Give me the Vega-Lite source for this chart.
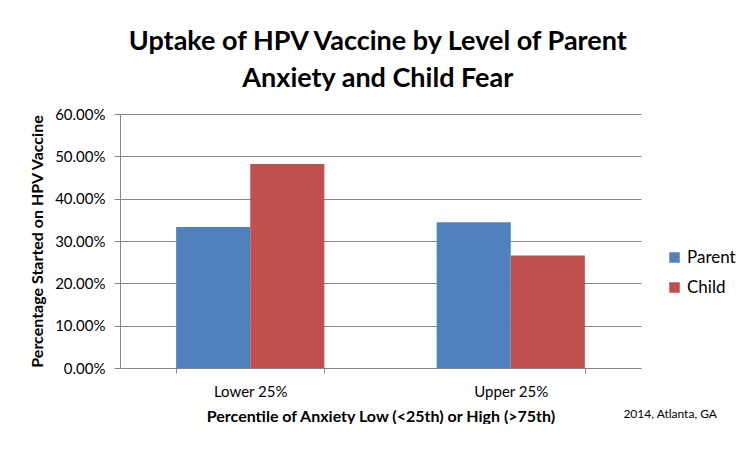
{
  "$schema": "https://vega.github.io/schema/vega-lite/v6.json",
  "autosize": {"type": "pad"},
  "padding": {"left": 29, "top": 28, "right": 0, "bottom": 0},
  "background": "white",
  "title": {
    "text": ["Uptake of HPV Vaccine by Level of Parent", "Anxiety and Child Fear"],
    "font": "Lato",
    "fontSize": 27,
    "fontWeight": "bold",
    "color": "#000000",
    "anchor": "middle",
    "lineHeight": 37,
    "offset": 14,
    "dx": -5
  },
  "data": {
    "values": [
      {"group": "Lower 25%", "who": "Parent", "pct": 0.333},
      {"group": "Lower 25%", "who": "Child", "pct": 0.482},
      {"group": "Upper 25%", "who": "Parent", "pct": 0.344},
      {"group": "Upper 25%", "who": "Child", "pct": 0.266}
    ]
  },
  "vconcat": [
    {
      "width": 521,
      "height": 254,
      "title": {
        "text": "2014, Atlanta, GA",
        "orient": "bottom",
        "anchor": "end",
        "font": "Lato",
        "fontSize": 12,
        "fontWeight": "normal",
        "color": "#000000",
        "frame": "group",
        "dx": 76,
        "offset": -15
      },
      "mark": {"type": "bar"},
      "encoding": {
        "x": {
          "field": "group",
          "type": "nominal",
          "sort": ["Lower 25%", "Upper 25%"],
          "scale": {"paddingInner": 0.431, "paddingOuter": 0.2155},
          "axis": {
            "title": "Percentile of Anxiety Low (<25th) or High (>75th)",
            "labelAngle": 0,
            "tickBand": "extent",
            "tickSize": 5,
            "labelPadding": 11,
            "titlePadding": 9
          }
        },
        "xOffset": {"field": "who", "type": "nominal", "sort": ["Parent", "Child"]},
        "y": {
          "field": "pct",
          "type": "quantitative",
          "scale": {"domain": [0, 0.6]},
          "axis": {
            "title": "Percentage Started on HPV Vaccine",
            "format": ".2%",
            "values": [0, 0.1, 0.2, 0.3, 0.4, 0.5, 0.6],
            "tickSize": 6,
            "labelPadding": 9,
            "titlePadding": 9
          }
        },
        "color": {
          "field": "who",
          "type": "nominal",
          "sort": ["Parent", "Child"],
          "scale": {"domain": ["Parent", "Child"], "range": ["#4F81BD", "#C0504D"]},
          "legend": {
            "title": null,
            "orient": "none",
            "legendX": 546,
            "legendY": 135,
            "symbolType": "square",
            "symbolSize": 110,
            "symbolStrokeWidth": 0,
            "labelFontSize": 17,
            "labelFont": "Lato",
            "labelColor": "#000000",
            "rowPadding": 12,
            "labelOffset": 4
          }
        }
      }
    }
  ],
  "config": {
    "view": {"stroke": null},
    "axis": {
      "labelFont": "Lato",
      "labelFontSize": 15,
      "labelColor": "#000000",
      "titleFont": "Lato",
      "titleFontSize": 16,
      "titleFontWeight": "bold",
      "titleColor": "#000000",
      "domainColor": "#868686",
      "tickColor": "#868686",
      "gridColor": "#868686",
      "gridOpacity": 1
    },
    "axisX": {"grid": false},
    "axisY": {"grid": true}
  }
}
